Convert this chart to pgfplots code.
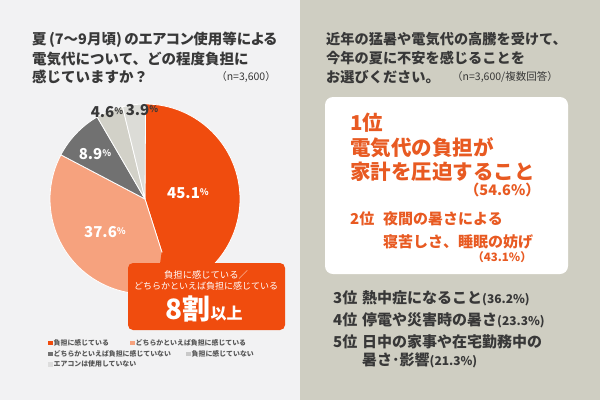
\documentclass[border=0pt]{standalone}
\usepackage{pgfplots}
\usepackage{pgfplotstable}
\pgfplotsset{compat=1.18}
\usepackage{fontspec}
\setmainfont{Noto Sans CJK JP}
\definecolor{leftbg}{HTML}{F2F2F3}
\definecolor{rightbg}{HTML}{CFCEC2}
\definecolor{cA}{HTML}{F04C0E}
\definecolor{cB}{HTML}{F6A27E}
\definecolor{cC}{HTML}{717171}
\definecolor{cD}{HTML}{D2D1C8}
\definecolor{cE}{HTML}{DCDCD7}
\definecolor{lgD}{HTML}{C9C9C9}
\definecolor{lgE}{HTML}{DDDDDD}
\definecolor{txt}{HTML}{383838}
\definecolor{org}{HTML}{E85A22}
\newcommand\fs[1]{\fontsize{#1}{#1}\selectfont}
\pgfplotstableread{
value col
45.1 cA
37.6 cB
8.9 cC
4.6 cD
3.9 cE
}\piedata
\begin{document}
\begin{tikzpicture}
\begin{axis}[width=600pt,height=400pt,scale only axis,xmin=0,xmax=600,ymin=0,ymax=400,
  y dir=reverse,hide axis,clip=false]
\fill[leftbg] (axis cs:0,0) rectangle (axis cs:300,400);
\fill[rightbg] (axis cs:300,0) rectangle (axis cs:600,400);
% pie
\pgfplotsextra{
  \pgfplotstablegetrowsof{\piedata}
  \pgfmathtruncatemacro\N{\pgfplotsretval-1}
  \xdef\startang{90}
  \foreach \i in {0,...,\N}{
    \pgfplotstablegetelem{\i}{value}\of\piedata \let\v\pgfplotsretval
    \pgfplotstablegetelem{\i}{col}\of\piedata \let\c\pgfplotsretval
    \pgfmathsetmacro\endang{\startang-3.6*\v}
    \fill[fill=\c, draw=white, line width=0.8pt, line join=round] (axis cs:145,199) -- ++(\startang:95pt)
      arc[start angle=\startang, end angle=\endang, radius=95pt] -- cycle;
    \global\let\startang\endang
  }
}
% titles
\node[anchor=west,inner sep=0,text=txt,font=\bfseries\fs{14.5}] at (axis cs:32,40) {\addfontfeature{RawFeature=+palt}夏\,(7〜9月頃)\,のエアコン使用等による};
\node[anchor=west,inner sep=0,text=txt,font=\bfseries\fs{14.5}] at (axis cs:32,59) {電気代について、どの程度負担に};
\node[anchor=west,inner sep=0,text=txt,font=\bfseries\fs{14.5}] at (axis cs:32,77) {感じていますか？};
\node[anchor=east,inner sep=0,text=txt,font=\fs{10.5}] at (axis cs:276,77) {（n=3,600）};
\node[anchor=west,inner sep=0,text=txt,font=\bfseries\fs{14.2}] at (axis cs:326,39) {近年の猛暑や電気代の高騰を受けて、};
\node[anchor=west,inner sep=0,text=txt,font=\bfseries\fs{14.2}] at (axis cs:326,58) {今年の夏に不安を感じることを};
\node[anchor=west,inner sep=0,text=txt,font=\bfseries\fs{14.2}] at (axis cs:326,77) {お選びください。};
\node[anchor=west,inner sep=0,text=txt,font=\fs{10.5}] at (axis cs:452,77) {（n=3,600/複数回答）};
% pie labels
\node[text=white,font=\bfseries] at (axis cs:188,193) {\fs{15}45.1\raisebox{3pt}{\fs{9}\%}};
\node[text=white,font=\bfseries] at (axis cs:105,232) {\fs{15}37.6\raisebox{3pt}{\fs{9}\%}};
\node[text=white,font=\bfseries] at (axis cs:95,154) {\fs{15}8.9\raisebox{3pt}{\fs{9}\%}};
\node[text=txt,font=\bfseries] at (axis cs:107,112) {\fs{15}4.6\raisebox{3pt}{\fs{9}\%}};
\node[text=txt,font=\bfseries] at (axis cs:142,110) {\fs{15}3.9\raisebox{3pt}{\fs{9}\%}};
% callout
\fill[cA,rounded corners=5pt] (axis cs:128,263) rectangle (axis cs:285,330);
\fill[cA] (axis cs:160,264) -- (axis cs:161.7,251.7) -- (axis cs:175,264) -- cycle;
\node[text=white,font=\fs{9.3}] at (axis cs:206,275) {負担に感じている／};
\node[text=white,font=\fs{9}] at (axis cs:206,286) {どちらかといえば負担に感じている};
\node[anchor=base,inner sep=0,text=white,font=\bfseries] at (axis cs:204,319.5) {\fs{28}8割\fs{16}以上};
% legend
\fill[cA] (axis cs:48,340.5) rectangle (axis cs:52.5,345);
\node[anchor=west,inner sep=0,text=txt!85,font=\bfseries\fs{6.9}] at (axis cs:53.5,343) {負担に感じている};
\fill[cB] (axis cs:130,340.5) rectangle (axis cs:134.5,345);
\node[anchor=west,inner sep=0,text=txt!85,font=\bfseries\fs{6.9}] at (axis cs:135.5,343) {どちらかといえば負担に感じている};
\fill[cC] (axis cs:48,351.5) rectangle (axis cs:52.5,356);
\node[anchor=west,inner sep=0,text=txt!85,font=\bfseries\fs{6.9}] at (axis cs:53.5,354) {どちらかといえば負担に感じていない};
\fill[lgD] (axis cs:186,351.5) rectangle (axis cs:190.5,356);
\node[anchor=west,inner sep=0,text=txt!85,font=\bfseries\fs{6.9}] at (axis cs:191.5,354) {負担に感じていない};
\fill[lgE] (axis cs:48,362) rectangle (axis cs:52.5,366.5);
\node[anchor=west,inner sep=0,text=txt!85,font=\bfseries\fs{6.9}] at (axis cs:53.5,364.3) {エアコンは使用していない};
% right white box
\fill[white,rounded corners=8pt] (axis cs:325,97) rectangle (axis cs:568,274);
\node[anchor=west,inner sep=0,text=org,font=\bfseries\fs{20.5}] at (axis cs:350,123) {1位};
\node[anchor=west,inner sep=0,text=org,font=\bfseries\fs{20.5}] at (axis cs:350,148) {電気代の負担が};
\node[anchor=west,inner sep=0,text=org,font=\bfseries\fs{20.5}] at (axis cs:350,172) {家計を圧迫すること};
\node[anchor=east,inner sep=0,text=org,font=\bfseries\fs{14.5}] at (axis cs:540,190) {（54.6\%）};
\node[anchor=west,inner sep=0,text=org,font=\bfseries\fs{15}] at (axis cs:350,219) {2位};
\node[anchor=west,inner sep=0,text=org,font=\bfseries\fs{15}] at (axis cs:383,219) {夜間の暑さによる};
\node[anchor=west,inner sep=0,text=org,font=\bfseries\fs{15}] at (axis cs:383,242) {寝苦しさ、睡眠の妨げ};
\node[anchor=east,inner sep=0,text=org,font=\bfseries\fs{11.5}] at (axis cs:532,257) {（43.1\%）};
% ranks 3-5
\node[anchor=west,inner sep=0,text=txt,font=\bfseries\fs{15}] at (axis cs:333,298) {3位};
\node[anchor=west,inner sep=0,text=txt,font=\bfseries\fs{15}] at (axis cs:362,298) {熱中症になること{\fs{12}(36.2\%)}};
\node[anchor=west,inner sep=0,text=txt,font=\bfseries\fs{15}] at (axis cs:333,320) {4位};
\node[anchor=west,inner sep=0,text=txt,font=\bfseries\fs{15}] at (axis cs:362,320) {停電や災害時の暑さ{\fs{12}(23.3\%)}};
\node[anchor=west,inner sep=0,text=txt,font=\bfseries\fs{15}] at (axis cs:333,342) {5位};
\node[anchor=west,inner sep=0,text=txt,font=\bfseries\fs{15}] at (axis cs:362,342) {日中の家事や在宅勤務中の};
\node[anchor=west,inner sep=0,text=txt,font=\bfseries\fs{15}] at (axis cs:362,360) {暑さ･影響{\fs{12}(21.3\%)}};
\end{axis}
\end{tikzpicture}
\end{document}
